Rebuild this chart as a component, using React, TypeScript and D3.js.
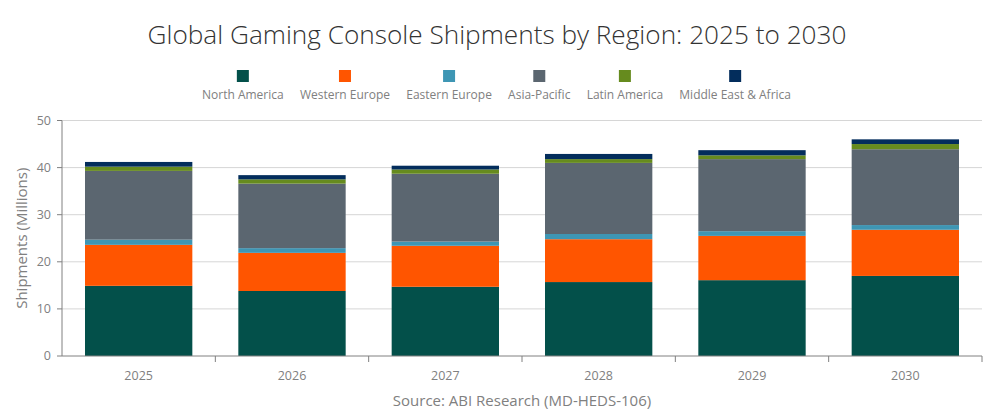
import React, { useMemo } from "react";
import * as d3 from "d3";

const years = ["2025", "2026", "2027", "2028", "2029", "2030"];
const regions = [
  "North America",
  "Western Europe",
  "Eastern Europe",
  "Asia-Pacific",
  "Latin America",
  "Middle East & Africa",
];
const northAmerica = [14.9, 13.8, 14.7, 15.7, 16.1, 17.0];
const westernEurope = [8.7, 8.1, 8.7, 9.1, 9.4, 9.8];
const easternEurope = [1.1, 1.0, 0.9, 1.1, 1.0, 1.0];
const asiaPacific = [14.6, 13.7, 14.4, 15.1, 15.3, 16.1];
const latinAmerica = [0.9, 0.9, 0.9, 0.8, 0.8, 1.1];
const middleEastAfrica = [1.0, 0.9, 0.8, 1.1, 1.1, 1.0];
const yTicks = [0, 10, 20, 30, 40, 50];

const colors = ["#03504a", "#ff5500", "#3e96b4", "#5b6670", "#668b1e", "#032d5c"];
const seriesValues = [northAmerica, westernEurope, easternEurope, asiaPacific, latinAmerica, middleEastAfrica];

const W = 994;
const H = 420;
const M = { left: 62, right: 12, top: 120.5, bottom: 64 };
const FONT = "'Segoe UI', 'Open Sans', sans-serif";
const GRAY = "#808080";
const LEGEND_FS = 12;
const LEGEND_SPAN = 589;

export default function App() {
  const rows = years.map((y, i) => {
    const r: any = { year: y };
    regions.forEach((reg, j) => (r[reg] = seriesValues[j][i]));
    return r;
  });
  const stacked = d3.stack<any>().keys(regions)(rows);

  const x = d3
    .scaleBand<string>()
    .domain(years)
    .range([M.left, W - M.right])
    .paddingInner(0.3)
    .paddingOuter(0.15);
  const y = d3.scaleLinear().domain([0, 50]).range([H - M.bottom, M.top]);
  const step = x.step();

  const legend = useMemo(() => {
    const canvas = document.createElement("canvas");
    const ctx = canvas.getContext("2d")!;
    ctx.font = `${LEGEND_FS}px ${FONT}`;
    const widths = regions.map((r) => ctx.measureText(r).width);
    const gap = Math.max(10, (LEGEND_SPAN - d3.sum(widths)) / (regions.length - 1));
    const total = d3.sum(widths) + gap * (regions.length - 1);
    let cx = 496.5 - total / 2;
    return widths.map((w) => {
      const c = cx + w / 2;
      cx += w + gap;
      return c;
    });
  }, []);

  const plotRight = W - M.right;
  const y0 = y(0);

  return (
    <svg
      width={W}
      height={H}
      style={{ position: "absolute", left: 0, top: 0, display: "block", background: "#fff" }}
      fontFamily={FONT}
    >
      <text x={497} y={44} textAnchor="middle" fontSize={26.2} fontWeight={300} fill="#333">
        Global Gaming Console Shipments by Region: 2025 to 2030
      </text>

      {regions.map((r, i) => (
        <g key={r}>
          <rect x={legend[i] - 6} y={70} width={12} height={12} fill={colors[i]} />
          <text x={legend[i]} y={99} textAnchor="middle" fontSize={LEGEND_FS} fill={GRAY}>
            {r}
          </text>
        </g>
      ))}

      {yTicks.map((t) => (
        <g key={t}>
          {t > 0 && (
            <line x1={M.left} x2={plotRight} y1={y(t)} y2={y(t)} stroke="#d6d6d6" strokeWidth={1} />
          )}
          <line x1={M.left - 5} x2={M.left} y1={y(t)} y2={y(t)} stroke={GRAY} />
          <text x={51} y={y(t)} dy="0.35em" textAnchor="end" fontSize={12.5} fill={GRAY}>
            {t}
          </text>
        </g>
      ))}

      {stacked.map((s, si) => (
        <g key={s.key} fill={colors[si]}>
          {s.map((d: any) => (
            <rect
              key={d.data.year}
              x={x(d.data.year)}
              y={y(d[1])}
              width={x.bandwidth()}
              height={y(d[0]) - y(d[1])}
            />
          ))}
        </g>
      ))}

      <line x1={M.left} x2={M.left} y1={M.top} y2={y0} stroke={GRAY} />
      <line x1={M.left} x2={plotRight} y1={y0} y2={y0} stroke={GRAY} />
      {years.map((yr, i) => (
        <g key={yr}>
          <line
            x1={M.left + step * (i + 1)}
            x2={M.left + step * (i + 1)}
            y1={y0}
            y2={y0 + 6}
            stroke={GRAY}
          />
          <text
            x={(x(yr) as number) + x.bandwidth() / 2}
            y={380}
            textAnchor="middle"
            fontSize={12.5}
            fill={GRAY}
          >
            {yr}
          </text>
        </g>
      ))}

      <text
        transform={`translate(27, ${(M.top + y0) / 2}) rotate(-90)`}
        textAnchor="middle"
        fontSize={15}
        fill={GRAY}
      >
        Shipments (Millions)
      </text>
      <text x={(M.left + plotRight) / 2} y={406} textAnchor="middle" fontSize={15} fill={GRAY}>
        Source: ABI Research (MD-HEDS-106)
      </text>
    </svg>
  );
}
